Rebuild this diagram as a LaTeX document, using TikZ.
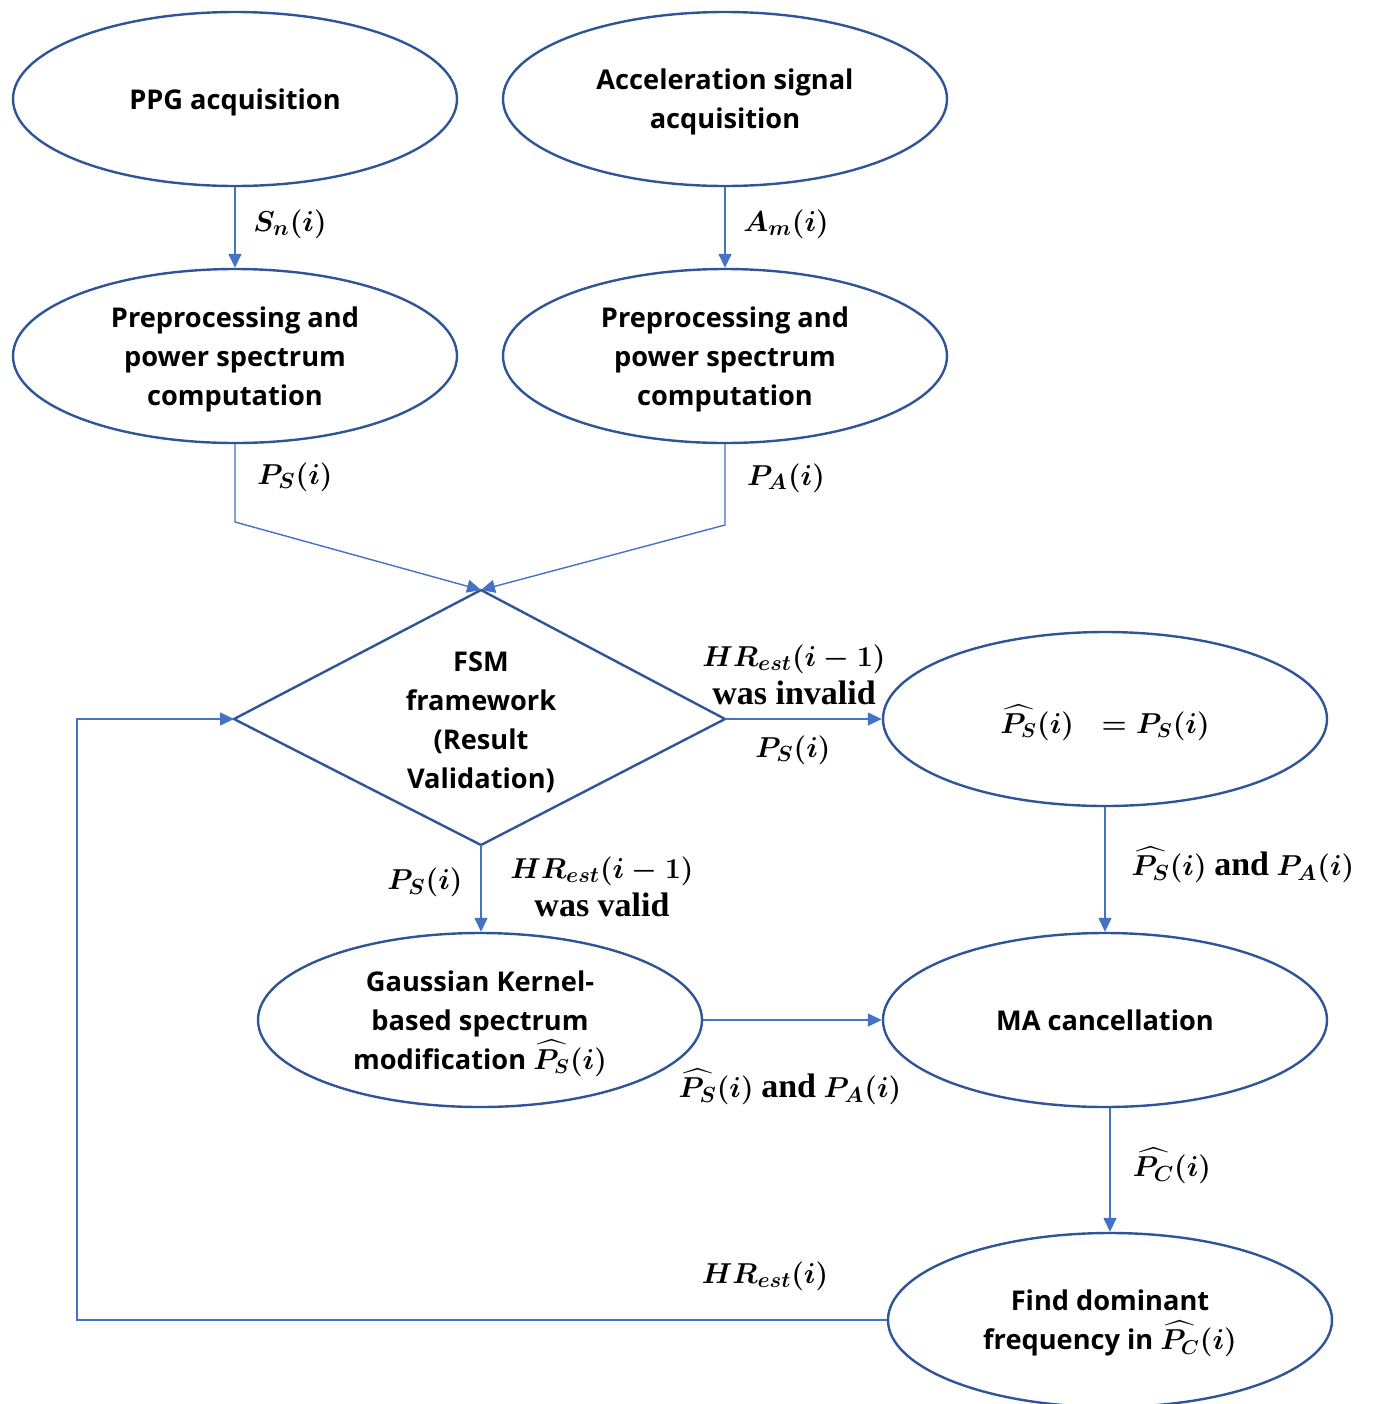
\documentclass[tikz,border=0pt]{standalone}
\usepackage{amsmath}
\usepackage{fontspec}
\setsansfont{Open Sans}
\newfontfamily\lblfont{Liberation Serif}
\newcommand{\lbltext}[1]{{\fontsize{17}{19}\selectfont #1}}
\usetikzlibrary{shapes.geometric,arrows.meta}
\definecolor{edgeblue}{HTML}{2F5597}
\definecolor{lineblue}{HTML}{4472C4}
\tikzset{
  box/.style={ellipse, draw=edgeblue, line width=1.2pt, minimum width=222pt, minimum height=87pt, inner sep=0pt,
    align=center, text depth=0pt, font=\sffamily\bfseries\fontsize{13.6}{19.5}\selectfont\boldmath},
  conn/.style={draw=lineblue, line width=0.7pt, -{Triangle[length=7pt,width=6.5pt]}},
  lbl/.style={align=center, inner sep=0pt, font=\lblfont\bfseries\fontsize{15}{19}\selectfont\boldmath},
}
\begin{document}
\begin{tikzpicture}[x=0.5pt,y=-0.5pt]
\useasboundingbox (0,0) rectangle (1375,1404);
% nodes
\node[box] (e1) at (235,99) {PPG acquisition};
\node[box] (e2) at (725,99) {Acceleration signal\\acquisition};
\node[box] (e3) at (235,356) {Preprocessing and\\power spectrum\\computation};
\node[box] (e4) at (725,356) {Preprocessing and\\power spectrum\\computation};
\node[box] (e5) at (1105,719) {$\widehat{P_S}(i)\;\;=P_S(i)$};
\node[box] (e6) at (480,1020) {Gaussian Kernel-\\based spectrum\\modification $\widehat{P_S}(i)$};
\node[box] (e7) at (1105,1020) {MA cancellation};
\node[box] (e8) at (1110,1320) {Find dominant\\frequency in $\widehat{P_C}(i)$};
% diamond
\coordinate (fsmT) at (481,590);
\coordinate (fsmB) at (481,845);
\coordinate (fsmL) at (234,719);
\coordinate (fsmR) at (725,719);
\draw[edgeblue, line width=1.2pt, line join=miter] (fsmT) -- (fsmR) -- (fsmB) -- (fsmL) -- cycle;
\node[align=center, inner sep=0pt, font=\sffamily\bfseries\fontsize{13.6}{19.5}\selectfont] (fsm) at (481,722) {FSM\\framework\\(Result\\Validation)};
% bends
\coordinate (k1) at (235,522);
\coordinate (k2) at (725,525);
\coordinate (k4) at (77,719);
% connectors
\draw[conn] (e1.south) -- (e3.north);
\draw[conn] (e2.south) -- (e4.north);
\draw[conn] (e3.south) -- (k1) -- (fsmT);
\draw[conn] (e4.south) -- (k2) -- (fsmT);
\draw[conn] (fsmR) -- (fsmR -| e5.west);
\draw[conn] (fsmB) -- (fsmB |- e6.north);
\draw[conn] (e5.south) -- (e7.north);
\draw[conn] (e6.east) -- (e7.west);
\draw[conn] (e8.north |- e7.south) -- (e8.north);
\draw[conn] (e8.west) -| (k4) -- (fsmL);
% labels
\node[lbl] (l1) at (290,224) {$S_n(i)$};
\node[lbl] (l2) at (786,224) {$A_m(i)$};
\node[lbl] (l3) at (295,477) {$P_S(i)$};
\node[lbl] (l4) at (786,478) {$P_A(i)$};
\node[lbl] (l5) at (794,675) {$HR_{est}(i-1)$\\\lbltext{was invalid}};
\node[lbl] (l6) at (793,750) {$P_S(i)$};
\node[lbl] (l7) at (425,882) {$P_S(i)$};
\node[lbl] (l8) at (602,887) {$HR_{est}(i-1)$\\\lbltext{was valid}};
\node[lbl] (l9) at (1243,865) {$\widehat{P_S}(i)$ \lbltext{and} $P_A(i)$};
\node[lbl] (l10) at (790,1087) {$\widehat{P_S}(i)$ \lbltext{and} $P_A(i)$};
\node[lbl] (l11) at (1172,1166) {$\widehat{P_C}(i)$};
\node[lbl] (l12) at (765,1276) {$HR_{est}(i)$};
\end{tikzpicture}
\end{document}
